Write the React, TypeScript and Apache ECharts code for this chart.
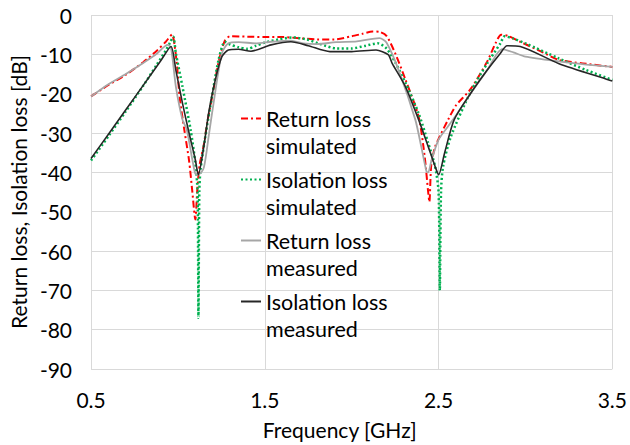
import React, { useEffect, useRef } from "react";
import * as echarts from "echarts";

// Frequency sweep points [GHz] and levels [dB] for each trace
const rlSimFreq = [0.5, 0.6, 0.7, 0.8, 0.88, 0.93, 0.966, 0.98, 0.995, 1.01, 1.036, 1.064, 1.083, 1.1, 1.112, 1.125, 1.149, 1.17, 1.196, 1.234, 1.27, 1.3, 1.4, 1.5, 1.6, 1.7, 1.8, 1.9, 2.0, 2.06, 2.12, 2.16, 2.2, 2.25, 2.31, 2.385, 2.42, 2.44, 2.447, 2.458, 2.48, 2.5, 2.555, 2.6, 2.685, 2.78, 2.83, 2.86, 2.9, 2.97, 3.1, 3.19, 3.33, 3.5];
const rlSimDb = [-20.7, -17.8, -15.2, -12.0, -9.0, -6.8, -5.0, -7.5, -13, -21, -29, -37, -45, -52, -44, -38, -33, -27, -21, -12, -6.5, -5.4, -5.5, -5.6, -5.6, -5.9, -6.2, -6.2, -5.4, -4.8, -4.2, -4.3, -5.3, -9.7, -16.5, -25.8, -36, -45, -47.5, -38, -33.5, -31.5, -26.6, -23, -18.8, -11.8, -7, -5.0, -5.3, -6.8, -9.5, -11.4, -12.3, -13.2];

const isoSimFreq = [0.5, 0.6, 0.7, 0.8, 0.88, 0.93, 0.955, 0.973, 0.988, 1.026, 1.073, 1.1, 1.113, 1.118, 1.123, 1.13, 1.158, 1.196, 1.234, 1.27, 1.3, 1.35, 1.4, 1.45, 1.5, 1.58, 1.66, 1.74, 1.82, 1.91, 2.0, 2.08, 2.15, 2.2, 2.25, 2.31, 2.385, 2.44, 2.48, 2.5, 2.507, 2.514, 2.526, 2.57, 2.685, 2.78, 2.856, 2.88, 2.93, 3.0, 3.19, 3.35, 3.5];
const isoSimDb = [-37, -30.8, -24.5, -18, -12.5, -9, -7, -5.5, -9.7, -18.2, -29.2, -37.6, -45, -77, -45, -39.3, -30.8, -20.7, -11.4, -6.8, -7.5, -8.2, -8.6, -7.8, -7.0, -6.2, -5.7, -6.2, -7.4, -8.5, -8.5, -7.8, -7.2, -8.5, -12, -17.3, -25, -32.5, -38.5, -45, -70, -45, -38.5, -31, -19.5, -12.3, -7.2, -5.4, -6, -7.2, -11, -14, -16.5];

const rlMeasFreq = [0.5, 0.6, 0.7, 0.8, 0.88, 0.94, 0.96, 0.988, 1.026, 1.05, 1.083, 1.1, 1.12, 1.149, 1.177, 1.205, 1.253, 1.29, 1.35, 1.45, 1.536, 1.65, 1.72, 1.8, 1.91, 2.03, 2.16, 2.2, 2.27, 2.366, 2.4, 2.43, 2.44, 2.46, 2.5, 2.555, 2.61, 2.685, 2.78, 2.866, 2.93, 3.0, 3.19, 3.35, 3.5];
const rlMeasDb = [-20.7, -17.6, -15, -12.2, -9.8, -7.6, -8.3, -18.2, -26.6, -29, -36.8, -40.3, -40.5, -38.8, -30.8, -22.4, -9.7, -7.2, -6.9, -7.2, -6.8, -6.5, -7.2, -7.4, -6.9, -6.7, -5.9, -7, -14, -26.6, -33.4, -39.7, -40, -36.8, -31.7, -28.3, -24.9, -19.9, -14, -8.7, -9.5, -10.6, -11.8, -12.6, -13.2];

const isoMeasFreq = [0.5, 0.6, 0.7, 0.8, 0.9, 0.96, 0.988, 1.026, 1.064, 1.1, 1.117, 1.149, 1.177, 1.215, 1.253, 1.29, 1.347, 1.42, 1.536, 1.65, 1.75, 1.875, 2.0, 2.14, 2.21, 2.233, 2.309, 2.385, 2.44, 2.48, 2.5, 2.535, 2.59, 2.685, 2.78, 2.856, 2.894, 2.97, 3.19, 3.48, 3.5];
const isoMeasDb = [-36.5, -30.3, -24.1, -17.9, -11.7, -8.0, -14, -22.4, -30, -36.8, -40.6, -33.4, -24.9, -16.5, -10.6, -8.9, -8.7, -9.2, -7.6, -6.8, -7.8, -9.3, -9.3, -8.9, -10.1, -12.3, -18.2, -26.6, -33.4, -38.5, -40.6, -35, -26.6, -19.9, -14, -9.7, -7.8, -8.0, -12.3, -16.5, -16.8];

const seriesNames = [
  "Return loss simulated",
  "Isolation loss simulated",
  "Return loss measured",
  "Isolation loss measured",
];
const legendLines: Record<string, string> = {
  "Return loss simulated": "Return loss\nsimulated",
  "Isolation loss simulated": "Isolation loss\nsimulated",
  "Return loss measured": "Return loss\nmeasured",
  "Isolation loss measured": "Isolation loss\nmeasured",
};

const xTicks = { min: 0.5, max: 3.5, step: 1 };
const yTicks = { min: -90, max: 0, step: 10 };

const FONT = "Lato, 'Open Sans', sans-serif";

const pair = (f: number[], v: number[]) => f.map((x, i) => [x, v[i]]);

export default function App() {
  const ref = useRef<HTMLDivElement>(null);

  useEffect(() => {
    document.body.style.margin = "0";
    if (!ref.current) return;
    const chart = echarts.init(ref.current, null, { renderer: "svg" });

    const base = {
      type: "line" as const,
      showSymbol: false,
      symbol: "none",
      smooth: 0.25,
    };

    chart.setOption({
      animation: false,
      backgroundColor: "#ffffff",
      textStyle: { fontFamily: FONT },
      grid: { left: 87, right: 14, top: 15, bottom: 75 },
      legend: {
        orient: "vertical",
        left: 240,
        top: 78,
        padding: 0,
        itemWidth: 20,
        itemHeight: 10,
        itemGap: -20,
        data: seriesNames,
        itemStyle: { opacity: 0 },
        formatter: (name: string) => "\n" + legendLines[name],
        textStyle: {
          fontFamily: FONT,
          fontSize: 21.5,
          lineHeight: 27,
          color: "#000000",
        },
      },
      xAxis: {
        type: "value",
        min: xTicks.min,
        max: xTicks.max,
        interval: xTicks.step,
        name: "Frequency [GHz]",
        nameLocation: "middle",
        nameGap: 50,
        nameTextStyle: {
          fontFamily: FONT,
          fontSize: 21,
          color: "#000000",
          padding: [0, 24, 0, 0],
        },
        axisLine: { show: false },
        axisTick: { show: false },
        axisLabel: {
          margin: 20,
          fontFamily: FONT,
          fontSize: 21,
          color: "#000000",
          formatter: (v: number) => v.toFixed(1),
        },
        splitLine: { show: true, lineStyle: { color: "#d9d9d9", width: 1 } },
      },
      yAxis: {
        type: "value",
        min: yTicks.min,
        max: yTicks.max,
        interval: yTicks.step,
        name: "Return loss, Isolation loss [dB]",
        nameLocation: "middle",
        nameGap: 58,
        nameTextStyle: { fontFamily: FONT, fontSize: 21, color: "#000000" },
        axisLine: { show: false },
        axisTick: { show: false },
        axisLabel: {
          margin: 19,
          fontFamily: FONT,
          fontSize: 21,
          color: "#000000",
        },
        splitLine: { show: true, lineStyle: { color: "#d9d9d9", width: 1 } },
      },
      series: [
        {
          ...base,
          name: seriesNames[0],
          data: pair(rlSimFreq, rlSimDb),
          lineStyle: { color: "#ff0000", width: 2, type: [7, 3, 2, 3] },
          itemStyle: { color: "#ff0000" },
        },
        {
          ...base,
          name: seriesNames[1],
          data: pair(isoSimFreq, isoSimDb),
          lineStyle: { color: "#00b050", width: 2.5, type: [2, 2.5] },
          itemStyle: { color: "#00b050" },
        },
        {
          ...base,
          name: seriesNames[2],
          data: pair(rlMeasFreq, rlMeasDb),
          lineStyle: { color: "#a6a6a6", width: 1.8 },
          itemStyle: { color: "#a6a6a6" },
        },
        {
          ...base,
          name: seriesNames[3],
          data: pair(isoMeasFreq, isoMeasDb),
          lineStyle: { color: "#262626", width: 1.6 },
          itemStyle: { color: "#262626" },
        },
      ],
    });

    return () => chart.dispose();
  }, []);

  return <div ref={ref} style={{ width: 630, height: 445 }} />;
}
